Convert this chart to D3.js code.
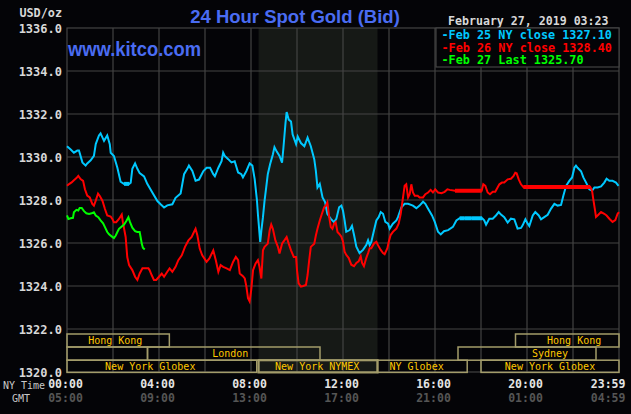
<!DOCTYPE html>
<html><head><meta charset="utf-8">
<script src="https://cdn.jsdelivr.net/npm/d3@7"></script>
<style>html,body{margin:0;padding:0;background:#040407;} svg{display:block;}</style>
</head><body><svg id="c" width="631" height="414"></svg>
<script>
// ---------- DATA ----------
const yTicks = [1320,1322,1324,1326,1328,1330,1332,1334,1336];
const gridHours = [2,4,6,8,10,12,14,16,18,20,22];
const timeTicks = [0,4,8,12,16,20,23.983];
const nyLabels = ["00:00","04:00","08:00","12:00","16:00","20:00","23:59"];
const gmtLabels = ["05:00","09:00","13:00","17:00","21:00","01:00","04:59"];
const nymexShade = [8.33, 13.5];

const sessionNames  = ["Hong Kong","Hong Kong","","London","Sydney","New York Globex","New York NYMEX","NY Globex","New York Globex"];
const sessionRows   = [0,0,1,1,1,2,2,2,2];
const sessionStarts = [0,19.5,0,3.5,17,0,8.33,13.5,18];
const sessionEnds   = [4.45,24,3.5,11,23,8.25,13.5,17.4,24];
const sessionLabelAt= [2.1,22.05,null,7.1,21.0,3.62,10.88,15.2,21.0];

const seriesNames = ["Feb 25 NY close 1327.10","Feb 26 NY close 1328.40","Feb 27 Last 1325.70"];
const seriesColors = ["#00c8ff","#ff0000","#00ff00"];

const feb25Hours = [0.00,0.16,0.30,0.45,0.52,0.67,0.81,0.88,1.03,1.17,1.25,1.39,1.46,1.61,1.75,1.86,1.90,2.04,2.19,2.33,2.48,2.70,2.77,2.84,2.96,3.06,3.16,3.35,3.49,3.71,3.93,4.07,4.22,4.36,4.58,4.72,4.94,5.09,5.23,5.30,5.45,5.59,5.74,5.93,
6.07,6.22,6.36,6.43,6.58,6.72,6.79,6.86,7.01,7.15,7.29,7.44,7.58,7.65,7.80,7.94,8.06,8.16,8.26,8.30,8.40,8.45,8.52,8.59,8.66,8.73,8.83,8.95,9.02,9.12,9.24,9.35,9.41,9.50,9.55,9.64,9.74,9.81,9.96,10.03,10.17,10.32,10.46,10.60,10.75,10.82,10.89,10.99,11.11,11.22,11.32,11.47,11.61,11.71,11.83,11.93,
12.0,12.07,12.14,12.29,12.39,12.48,12.58,12.72,12.87,13.01,13.09,13.16,13.23,13.30,13.45,13.55,13.64,13.74,13.84,13.96,14.03,14.17,14.32,14.39,14.54,14.68,14.83,15.04,15.19,15.33,15.48,15.58,15.70,15.87,15.99,16.13,16.25,16.39,16.57,16.78,16.93,17.07,17.29,17.58,18.05,
18.14,18.22,18.36,18.51,18.65,18.77,18.87,19.01,19.16,19.30,19.45,19.59,19.74,19.81,19.93,20.03,20.10,20.25,20.36,20.51,20.61,20.75,20.90,21.04,21.19,21.33,21.48,21.58,21.70,21.84,21.96,22.06,22.13,22.20,22.35,22.45,22.57,22.71,22.83,22.93,23.07,23.22,23.36,23.46,23.58,23.72,23.87,23.98];
const feb25Values = [1330.5,1330.35,1330.2,1330.3,1330.3,1329.75,1329.6,1329.7,1329.85,1330.05,1330.6,1331.0,1331.1,1330.75,1331.0,1330.6,1330.2,1330.05,1329.5,1328.85,1328.75,1328.75,1328.8,1329.45,1329.7,1329.45,1329.25,1329.1,1328.75,1328.35,1327.95,1327.8,1327.65,1327.75,1327.8,1328.1,1328.3,1329.2,1329.45,1329.6,1329.35,1328.9,1328.95,1329.35,
1329.5,1329.5,1329.2,1329.1,1329.5,1329.8,1330.2,1330.05,1329.9,1329.75,1329.8,1329.28,1329.2,1329.05,1329.35,1329.7,1329.6,1328.97,1327.97,1327.35,1326.05,1326.58,1327.2,1327.97,1328.58,1329.2,1329.66,1330.12,1330.46,1330.25,1330.05,1329.74,1330.43,1331.58,1332.09,1331.74,1331.65,1331.05,1330.6,1330.95,1330.65,1330.5,1330.9,1330.5,1329.9,1329.35,1328.58,1328.75,1328.12,1327.9,1327.35,1327.12,1326.97,1327.12,1327.66,1327.74,
1327.5,1327.05,1326.52,1326.6,1326.8,1326.37,1325.83,1325.53,1325.68,1325.9,1326.13,1325.9,1326.05,1326.37,1327.05,1327.2,1327.44,1327.36,1326.98,1326.9,1326.67,1326.9,1327.05,1327.2,1327.66,1327.82,1327.82,1327.74,1327.62,1327.74,1327.92,1327.82,1327.59,1327.28,1326.98,1326.52,1326.4,1326.55,1326.6,1326.75,1327.05,1327.15,1327.15,1327.15,1327.15,
1327.05,1326.85,1327.13,1327.13,1327.28,1327.44,1327.32,1327.2,1326.95,1327.13,1327.1,1326.67,1326.7,1326.82,1327.1,1326.9,1326.79,1327.28,1327.44,1327.28,1327.1,1327.2,1327.31,1327.59,1327.82,1327.74,1327.77,1328.2,1328.66,1328.89,1329.05,1329.5,1329.6,1329.5,1329.34,1329.05,1328.81,1328.5,1328.43,1328.58,1328.58,1328.63,1328.81,1328.99,1328.89,1328.89,1328.81,1328.66];

const feb26Hours = [0,0.09,0.20,0.30,0.41,0.49,0.59,0.70,0.78,0.88,0.99,1.10,1.17,1.25,1.35,1.42,1.54,1.65,1.75,1.90,1.97,2.04,2.14,2.26,2.38,2.43,2.55,2.62,2.70,2.84,2.96,3.06,3.16,3.28,3.42,3.54,3.59,3.68,3.78,3.88,4.0,4.12,4.22,4.36,4.46,4.58,4.72,4.84,4.99,5.13,5.28,5.42,5.52,5.59,5.67,5.77,5.88,
6.07,6.19,6.36,6.47,6.58,6.68,6.79,6.94,7.08,7.22,7.34,7.44,7.51,7.65,7.73,7.80,7.87,7.94,8.01,8.09,8.20,8.30,8.37,8.45,8.52,8.59,8.73,8.81,8.88,8.95,9.06,9.17,9.24,9.35,9.45,9.55,9.64,9.74,9.86,9.96,10.0,10.07,10.17,10.27,10.39,10.46,10.53,10.60,10.75,10.82,10.89,10.99,11.08,11.18,11.25,11.32,11.40,11.47,11.54,11.61,11.68,11.76,11.83,
11.93,12.0,12.07,12.14,12.25,12.36,12.48,12.58,12.68,12.77,12.83,12.91,13.01,13.09,13.16,13.23,13.35,13.45,13.52,13.64,13.74,13.81,13.93,13.99,14.07,14.17,14.32,14.42,14.51,14.57,14.64,14.68,14.75,14.83,14.90,14.97,15.04,15.12,15.25,15.33,15.48,15.58,15.70,15.81,15.91,16.01,16.13,16.28,16.42,16.54,16.64,16.87,18.03,
18.10,18.19,18.29,18.39,18.51,18.62,18.72,18.80,18.91,19.01,19.16,19.30,19.41,19.49,19.55,19.64,19.74,19.84,22.75,22.83,22.88,22.96,23.0,23.07,23.22,23.36,23.46,23.58,23.72,23.84,23.94,24.0];
const feb26Values = [1328.66,1328.74,1328.82,1328.92,1329.02,1329.12,1328.97,1328.89,1328.5,1328.2,1328.12,1327.82,1327.74,1327.97,1328.3,1328.2,1327.97,1327.58,1327.28,1327.23,1327.12,1326.97,1326.97,1327.12,1327.32,1326.97,1326.28,1325.35,1324.97,1324.74,1324.43,1324.28,1324.58,1324.82,1324.82,1324.82,1324.74,1324.51,1324.28,1324.28,1324.43,1324.58,1324.43,1324.66,1324.82,1324.66,1324.89,1325.2,1325.43,1325.82,1326.12,1326.28,1326.51,1326.66,1326.35,1325.74,1325.43,
1325.12,1325.28,1325.66,1325.2,1324.66,1324.97,1324.89,1324.82,1324.74,1325.12,1325.35,1325.2,1324.58,1324.46,1324.35,1323.97,1323.43,1323.28,1323.82,1324.74,1325.05,1325.2,1324.89,1324.35,1325.66,1325.82,1325.97,1326.58,1326.86,1326.66,1326.12,1325.82,1325.51,1325.97,1326.12,1326.28,1325.97,1325.66,1325.35,1325.35,1324.74,1324.12,1323.97,1324.0,1324.05,1324.51,1325.2,1325.82,1325.97,1326.35,1326.66,1327.05,1327.35,1327.66,1327.74,1327.89,1327.2,1326.74,1326.66,1326.89,1326.97,1326.51,1326.43,
1326.29,1326.06,1325.6,1325.45,1325.3,1324.99,1324.92,1325.07,1325.15,1325.38,1325.07,1324.92,1325.3,1325.53,1325.76,1325.76,1325.98,1326.06,1325.9,1325.68,1325.53,1325.48,1325.76,1326.06,1326.37,1326.52,1326.67,1326.9,1327.36,1327.82,1328.35,1328.66,1328.73,1328.12,1328.27,1328.73,1328.35,1328.2,1328.2,1328.12,1328.12,1328.27,1328.35,1328.47,1328.35,1328.5,1328.35,1328.32,1328.38,1328.5,1328.47,1328.43,1328.43,
1328.73,1328.66,1328.35,1328.27,1328.38,1328.38,1328.58,1328.73,1328.81,1328.81,1328.96,1328.99,1329.11,1329.27,1329.24,1328.96,1328.73,1328.6,1328.6,1328.43,1328.05,1327.51,1327.21,1327.28,1327.44,1327.36,1327.28,1327.13,1326.98,1327.06,1327.36,1327.44];

const feb27Hours = [0,0.06,0.16,0.26,0.30,0.41,0.49,0.55,0.64,0.74,0.84,0.96,1.07,1.17,1.25,1.36,1.46,1.57,1.65,1.75,1.83,1.94,2.04,2.12,2.19,2.26,2.38,2.48,2.58,2.67,2.74,2.84,2.96,3.06,3.16,3.20,3.25,3.30,3.38];
const feb27Values = [1327.28,1327.12,1327.15,1327.17,1327.43,1327.54,1327.51,1327.63,1327.63,1327.48,1327.38,1327.35,1327.38,1327.43,1327.28,1327.2,1327.05,1326.92,1326.74,1326.51,1326.4,1326.31,1326.23,1326.35,1326.51,1326.66,1326.77,1326.86,1327.02,1327.2,1326.97,1326.71,1326.55,1326.51,1326.51,1326.28,1325.97,1325.78,1325.70];

// ---------- CHART ----------
const svg = d3.select("#c");
const W = 631, H = 414;
const x = d3.scaleLinear().domain([0,24]).range([67,619]);
const y = d3.scaleLinear().domain([1320,1336]).range([372,28]);
const mono = "'DejaVu Sans Mono', monospace";
const sans = "'Liberation Sans', Arial, sans-serif";
const gridColor = "#444444";

svg.append("rect").attr("width",W).attr("height",H).attr("fill","#040407");

// NYMEX shaded band
svg.append("rect").attr("x",x(nymexShade[0])).attr("y",y(1336))
  .attr("width",x(nymexShade[1])-x(nymexShade[0])).attr("height",y(1320)-y(1336))
  .attr("fill","#161916");

// grid
svg.append("g").selectAll("line").data(yTicks.slice(1,-1)).join("line")
  .attr("x1",x(0)).attr("x2",x(24)).attr("y1",d=>y(d)).attr("y2",d=>y(d))
  .attr("stroke",gridColor).attr("stroke-width",1.2);
svg.append("g").selectAll("line").data(gridHours).join("line")
  .attr("x1",d=>x(d)).attr("x2",d=>x(d)).attr("y1",y(1336)).attr("y2",y(1320))
  .attr("stroke",gridColor).attr("stroke-width",1.2);
svg.append("rect").attr("x",x(0)).attr("y",y(1336)).attr("width",x(24)-x(0)).attr("height",y(1320)-y(1336))
  .attr("fill","none").attr("stroke",gridColor).attr("stroke-width",1.2);

// y axis labels
const yAxis = d3.axisLeft(y).tickValues(yTicks).tickFormat(d3.format(".1f")).tickSize(0).tickPadding(5);
const ga = svg.append("g").attr("transform",`translate(${x(0)},0)`).call(yAxis);
ga.select(".domain").remove();
ga.selectAll("text").attr("fill","#d8d8d8").attr("font-family",mono).attr("font-size","12px").attr("font-weight","bold").attr("dy","0.36em");

svg.append("text").attr("x",62).attr("y",17).attr("text-anchor","end")
  .attr("fill","#d8d8d8").attr("font-family",mono).attr("font-size","11.8px").attr("font-weight","bold").text("USD/oz");

// session boxes
const rowTop = [334,347,360.2];
const rowH = [13,13.2,12.2];
const sess = sessionNames.map((n,i)=>({n,row:sessionRows[i],s:sessionStarts[i],e:sessionEnds[i],l:sessionLabelAt[i]}));
const gs = svg.append("g");
gs.selectAll("rect").data(sess).join("rect")
  .attr("x",d=>x(d.s)).attr("y",d=>rowTop[d.row]).attr("width",d=>x(d.e)-x(d.s)).attr("height",d=>rowH[d.row])
  .attr("fill","none").attr("stroke","#a39c6a").attr("stroke-width",d=>d.n==="New York NYMEX"?2.2:1.5);
gs.selectAll("text").data(sess.filter(d=>d.n)).join("text")
  .attr("x",d=>x(d.l)).attr("y",d=>rowTop[d.row]+10).attr("text-anchor","middle")
  .attr("fill","#ffc800").attr("font-family",mono).attr("font-size","10px").text(d=>d.n);

// series lines
const series = [
  {h:feb25Hours,v:feb25Values,c:seriesColors[0]},
  {h:feb26Hours,v:feb26Values,c:seriesColors[1]},
  {h:feb27Hours,v:feb27Values,c:seriesColors[2]}
];
const line = d3.line().x(d=>x(d[0])).y(d=>y(d[1]));
series.forEach(s=>{
  const pts = s.h.map((h,i)=>[h,s.v[i]]);
  svg.append("path").datum(pts).attr("d",line).attr("fill","none").attr("stroke",s.c).attr("stroke-width",2).attr("stroke-linejoin","miter");
  // thicker flat stretches (no-trade periods)
  const flats = [];
  for(let i=1;i<pts.length;i++) if(pts[i][1]===pts[i-1][1] && pts[i][0]-pts[i-1][0]>0.2) flats.push([pts[i-1],pts[i]]);
  svg.append("g").selectAll("path").data(flats).join("path").attr("d",line)
    .attr("fill","none").attr("stroke",s.c).attr("stroke-width",4);
});

// title & branding
svg.append("text").attr("x",295).attr("y",23).attr("text-anchor","middle")
  .attr("fill","#4a6cf2").attr("font-family",sans).attr("font-weight","bold").attr("font-size","18.5px")
  .text("24 Hour Spot Gold (Bid)");
svg.append("text").attr("x",68).attr("y",56)
  .attr("fill","#4a6cf2").attr("font-family",sans).attr("font-weight","bold").attr("font-size","21px")
  .attr("textLength",133).attr("lengthAdjust","spacingAndGlyphs").text("www.kitco.com");
svg.append("text").attr("x",448).attr("y",25)
  .attr("fill","#d8d8d8").attr("font-family",mono).attr("font-weight","bold").attr("font-size","11.6px")
  .text("February 27, 2019 03:23");

// legend
svg.append("rect").attr("x",436).attr("y",28).attr("width",183).attr("height",39)
  .attr("fill","#040407").attr("stroke",gridColor).attr("stroke-width",1.2);
const legY = [39,51.5,64];
svg.append("g").selectAll("text").data(seriesNames).join("text")
  .attr("x",441.5).attr("y",(d,i)=>legY[i])
  .attr("fill",(d,i)=>seriesColors[i]).attr("font-family",mono).attr("font-weight","bold").attr("font-size","11.8px")
  .text(d=>"-"+d);

// time axis labels
const tl = svg.append("g");
tl.selectAll("text.ny").data(timeTicks).join("text").attr("class","ny")
  .attr("x",(d,i)=> i===timeTicks.length-1 ? x(d)-10.5 : x(d)-1.5).attr("y",388).attr("text-anchor","middle")
  .attr("fill","#e4e4e4").attr("font-family",mono).attr("font-weight","bold").attr("font-size","11.5px")
  .text((d,i)=>nyLabels[i]);
tl.selectAll("text.gmt").data(timeTicks).join("text").attr("class","gmt")
  .attr("x",(d,i)=> i===timeTicks.length-1 ? x(d)-10.5 : x(d)-1.5).attr("y",402).attr("text-anchor","middle")
  .attr("fill","#555555").attr("font-family",mono).attr("font-weight","bold").attr("font-size","11.5px")
  .text((d,i)=>gmtLabels[i]);
svg.append("text").attr("x",3).attr("y",389).attr("fill","#c8c8c8").attr("font-family",mono).attr("font-size","10px").text("NY Time");
svg.append("text").attr("x",12).attr("y",402).attr("fill","#c8c8c8").attr("font-family",mono).attr("font-size","10px").text("GMT");
</script></body></html>
